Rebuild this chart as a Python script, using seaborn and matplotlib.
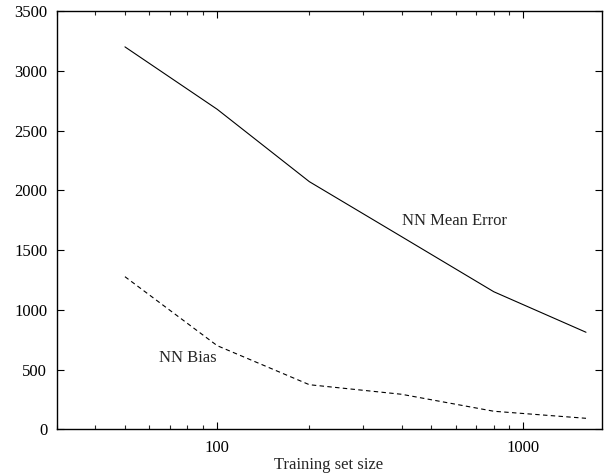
import matplotlib
matplotlib.use("Agg")
import matplotlib.pyplot as plt
import seaborn as sns
import pandas as pd
from matplotlib.ticker import LogLocator, FixedLocator, NullFormatter, FixedFormatter

sizes = [50, 100, 200, 400, 800, 1600]
mean_error = [3200, 2678, 2072, 1612, 1151, 812]
bias = [1277, 700, 373, 293, 151, 92]
y_ticks = [0, 500, 1000, 1500, 2000, 2500, 3000, 3500]
x_ticks = [100, 1000]
x_tick_labels = ["100", "1000"]

sns.set_theme(style="ticks")
plt.rcParams['font.family'] = ['Liberation Serif', 'DejaVu Serif']

fig = plt.figure(figsize=(6.05, 4.73), dpi=100)
ax = fig.add_axes([0.0942, 0.0924, 0.9003, 0.8843])

df_mean = pd.DataFrame({"size": sizes, "value": mean_error})
df_bias = pd.DataFrame({"size": sizes, "value": bias})
sns.lineplot(data=df_mean, x="size", y="value", ax=ax, color="black", linewidth=0.8)
sns.lineplot(data=df_bias, x="size", y="value", ax=ax, color="black", linewidth=0.8,
             linestyle=(0, (4, 3)))

ax.set_xscale("log")
ax.set_xlim(30, 1800)
ax.set_ylim(0, 3500)
ax.xaxis.set_major_locator(FixedLocator(x_ticks))
ax.xaxis.set_major_formatter(FixedFormatter(x_tick_labels))
ax.xaxis.set_minor_locator(LogLocator(base=10, subs=range(2, 10)))
ax.xaxis.set_minor_formatter(NullFormatter())
ax.set_yticks(y_ticks)
ax.set_yticklabels([str(v) for v in y_ticks])

for s in ax.spines.values():
    s.set_linewidth(1.0)
    s.set_color("black")
    s.set_visible(True)

ax.tick_params(which="major", direction="in", length=5, width=0.8, top=True, right=True,
               labelsize=12, colors="black")
ax.tick_params(which="minor", direction="in", length=3, width=0.8, top=True, right=True)
ax.tick_params(axis="y", pad=7)
ax.tick_params(axis="x", pad=8)

ax.set_xlabel("")
ax.set_ylabel("")
fig.text(329 / 605, 1 - 469.0 / 473, "Training set size", fontsize=12,
         ha="center", va="baseline")

ax.text(0.633, 0.498, "NN Mean Error", transform=ax.transAxes, fontsize=12,
        va="center", ha="left")
ax.text(0.1878, 0.1697, "NN Bias", transform=ax.transAxes, fontsize=12,
        va="center", ha="left")

fig.savefig("out.png", dpi=100)
